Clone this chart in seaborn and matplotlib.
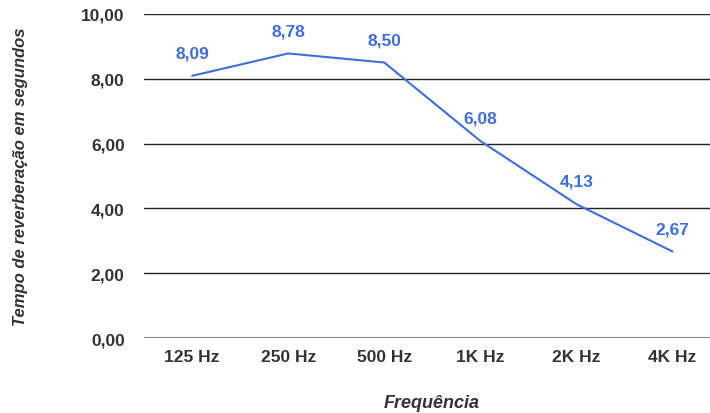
import pandas as pd
import seaborn as sns
import matplotlib.pyplot as plt

frequencies = ["125 Hz", "250 Hz", "500 Hz", "1K Hz", "2K Hz", "4K Hz"]
reverb_times = [8.09, 8.78, 8.50, 6.08, 4.13, 2.67]
y_ticks = [0, 2, 4, 6, 8, 10]

df = pd.DataFrame({"freq": frequencies, "tempo": reverb_times})

sns.set_style("white")
plt.rcParams["font.family"] = ["Liberation Sans", "DejaVu Sans"]

line_color = "#3d6fd8"
text_color = "#333333"

fig = plt.figure(figsize=(7.1, 4.14), dpi=100)
ax = fig.add_axes([0.203, 0.181, 0.797, 0.783])

sns.lineplot(data=df, x="freq", y="tempo", color=line_color, linewidth=1.5, ax=ax)

# value labels above each point
for i, v in enumerate(reverb_times):
    ax.annotate(f"{v:.2f}".replace(".", ","), (i, v), xytext=(0, 11),
                textcoords="offset points", ha="center", va="bottom",
                color=line_color, fontsize=12.5, fontweight="bold")

ax.set_ylim(0, 10)
ax.set_xlim(-0.5, 5.39)
ax.set_yticks(y_ticks)
ax.set_yticklabels([f"{t:.2f}".replace(".", ",") for t in y_ticks])

for t in y_ticks[1:]:
    ax.axhline(t, color="#222222", linewidth=1.0, zorder=0)
ax.axhline(0, color="#888888", linewidth=1.5, zorder=0)

for s in ax.spines.values():
    s.set_visible(False)

ax.tick_params(axis="both", length=0, labelsize=12.5, labelcolor=text_color)
ax.tick_params(axis="y", pad=14)
ax.tick_params(axis="x", pad=8)
for lbl in ax.get_xticklabels() + ax.get_yticklabels():
    lbl.set_fontweight("bold")

ax.set_xlabel("Frequência", fontsize=13, style="italic", fontweight="bold",
              color=text_color, va="center")
ax.xaxis.set_label_coords(0.509, -0.198)
ax.set_ylabel("Tempo de reverberação em segundos", fontsize=12, style="italic",
              fontweight="bold", color=text_color, va="center")
ax.yaxis.set_label_coords(-0.219, 0.5)

fig.savefig("out.png", dpi=100)
